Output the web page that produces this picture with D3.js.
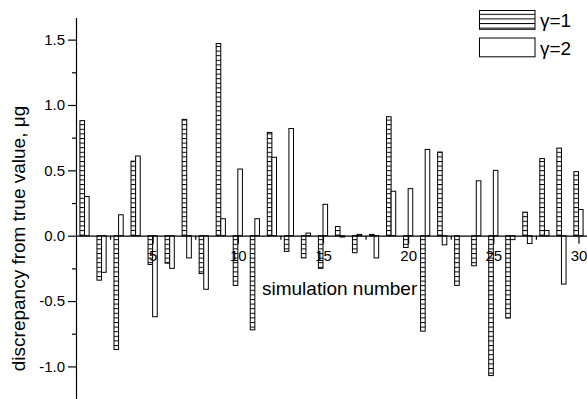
<!DOCTYPE html>
<html>
<head>
<meta charset="utf-8">
<script src="https://cdn.jsdelivr.net/npm/d3@7"></script>
<style>
  html, body { margin: 0; padding: 0; background: #fff; }
  svg { display: block; font-family: "Liberation Sans", Arial, sans-serif; }
</style>
</head>
<body>
<svg id="chart" width="587" height="399"></svg>
<script>
// ---- data ----
const simulations = d3.range(1, 31);
const gamma1 = [0.88, -0.34, -0.87, 0.57, -0.22, -0.21, 0.89, -0.29, 1.47, -0.38,
                -0.72, 0.79, -0.12, -0.17, -0.25, 0.07, -0.13, 0.01, 0.91, -0.09,
                -0.73, 0.64, -0.38, -0.23, -1.07, -0.63, 0.18, 0.59, 0.67, 0.49];
const gamma2 = [0.30, -0.28, 0.16, 0.61, -0.62, -0.25, -0.17, -0.41, 0.13, 0.51,
                0.13, 0.60, 0.82, 0.02, 0.24, -0.01, 0.01, -0.17, 0.34, 0.36,
                0.66, -0.07, 0.00, 0.42, 0.50, -0.03, -0.06, 0.04, -0.37, 0.20];
const seriesNames = ["\u03b3=1", "\u03b3=2"];
const xMajorTicks = [5, 10, 15, 20, 25, 30];
const xMinorTicks = [2.5, 7.5, 12.5, 17.5, 22.5, 27.5];
const yMajorTicks = [-1.0, -0.5, 0.0, 0.5, 1.0, 1.5];
const yMinorTicks = [-1.25, -0.75, -0.25, 0.25, 0.75, 1.25];
const xTitle = "simulation number";
const yTitle = "discrepancy from true value, \u03bcg";

// ---- layout ----
const svg = d3.select("#chart");
const x = d3.scaleLinear().domain([0.5, 30.5]).range([76, 587]);
const y = d3.scaleLinear().domain([-1.25, 1.67]).range([399.1, 17.4]);
const sub = d3.scaleBand().domain(seriesNames).range([-4.6, 4.6]);

// pattern for gamma=1
const defs = svg.append("defs");
const pat = defs.append("pattern")
  .attr("id", "hatch")
  .attr("patternUnits", "userSpaceOnUse")
  .attr("width", 8).attr("height", 4.6);
pat.append("rect").attr("width", 8).attr("height", 4.6).attr("fill", "#fff");
pat.append("line").attr("x1", 0).attr("x2", 8).attr("y1", 0.5).attr("y2", 0.5)
  .attr("stroke", "#000").attr("stroke-width", 1);

const fills = ["url(#hatch)", "#fff"];
const seriesData = [gamma1, gamma2];

seriesData.forEach((vals, si) => {
  svg.append("g").selectAll("rect")
    .data(vals.map((v, i) => ({ sim: simulations[i], v })))
    .join("rect")
    .attr("x", d => x(d.sim) + sub(seriesNames[si]))
    .attr("width", sub.bandwidth())
    .attr("y", d => y(Math.max(0, d.v)))
    .attr("height", d => Math.abs(y(d.v) - y(0)))
    .attr("fill", fills[si])
    .attr("stroke", "#000")
    .attr("stroke-width", 1);
});

// ---- x axis (at zero) ----
const xAxisG = svg.append("g").attr("transform", `translate(0,${y(0)})`);
xAxisG.call(d3.axisBottom(x).tickValues(xMajorTicks).tickSize(8).tickSizeOuter(0)
  .tickPadding(6.3).tickFormat(d3.format("d")));
xAxisG.append("g").call(d3.axisBottom(x).tickValues(xMinorTicks).tickSize(4)
  .tickSizeOuter(0).tickFormat(""))
  .select(".domain").remove();

// ---- y axis ----
const yAxisG = svg.append("g").attr("transform", `translate(${x(0.5)},0)`);
yAxisG.call(d3.axisLeft(y).tickValues(yMajorTicks).tickSize(8).tickSizeOuter(0)
  .tickPadding(3).tickFormat(d => d.toFixed(1)));
yAxisG.append("g").call(d3.axisLeft(y).tickValues(yMinorTicks).tickSize(4)
  .tickSizeOuter(0).tickFormat(""))
  .select(".domain").remove();

svg.selectAll(".tick text").attr("font-size", 15).attr("fill", "#000")
  .attr("font-family", "Liberation Sans, Arial, sans-serif");
svg.selectAll(".domain, .tick line").attr("stroke", "#000").attr("stroke-width", 1.2);

// ---- titles ----
svg.append("text")
  .attr("x", 262).attr("y", 295)
  .attr("font-size", 19).attr("fill", "#000")
  .text(xTitle);

svg.append("text")
  .attr("transform", "translate(25,238.5) rotate(-90)")
  .attr("text-anchor", "middle")
  .attr("font-size", 19).attr("fill", "#000")
  .text(yTitle);

// ---- legend ----
const legend = svg.append("g");
seriesNames.forEach((name, i) => {
  legend.append("rect")
    .attr("x", 479.5).attr("y", 10.5 + i * 27.5)
    .attr("width", 55.5).attr("height", 18.8)
    .attr("fill", fills[i]).attr("stroke", "#000").attr("stroke-width", 1);
  legend.append("text")
    .attr("x", 540).attr("y", 27 + i * 28)
    .attr("font-size", 19).attr("fill", "#000")
    .text(name);
});
</script>
</body>
</html>
